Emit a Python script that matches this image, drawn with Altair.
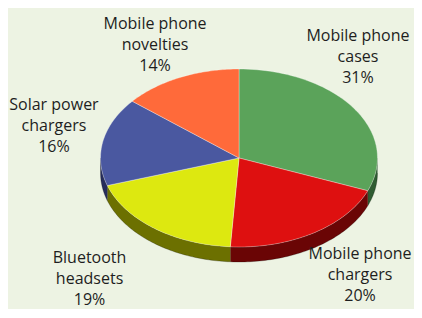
import altair as alt
import pandas as pd

# ---- data ----
categories = ["Mobile phone cases", "Mobile phone chargers", "Bluetooth headsets",
              "Solar power chargers", "Mobile phone novelties"]
values = [31, 20, 19, 16, 14]
label_lines = ["Mobile phone\ncases", "Mobile phone\nchargers", "Bluetooth\nheadsets",
               "Solar power\nchargers", "Mobile phone\nnovelties"]

# ---- styling / layout ----
top_colors = ["#5ba35a", "#de1010", "#dde810", "#4a58a0", "#ff6a3a"]
side_colors = ["#2f5c32", "#6a0505", "#6c7000", "#262d5c", "#a0401f"]
# label anchors (middle line) in pie-radius units (x right, y up)
label_x = [0.859, 0.874, -1.079, -1.336, -0.606]
label_y = [1.135, -1.315, -1.360, 0.360, 1.270]

W, H = 406, 301
CX, CY = 231.0, 150.0      # pie centre in chart pixels
RX, RY = 138.5, 89.0       # ellipse radii in pixels
DEPTH = 15.0 / RY          # side wall depth in y units
LH = 21                    # label line height

xdom = [-CX / RX, (W - CX) / RX]
ydom = [(CY - H) / RY, CY / RY]

df = pd.DataFrame({
    "cat": categories,
    "value": values,
    "ord": list(range(len(categories))),
    "text": [f"{l}\n{v}%" for l, v in zip(label_lines, values)],
    "lx": label_x,
    "ly": label_y,
})

xs = alt.Scale(domain=xdom, nice=False, zero=False)
ys = alt.Scale(domain=ydom, nice=False, zero=False)

base = (
    alt.Chart(df)
    .transform_window(cum="sum(value)", sort=[{"field": "ord"}], frame=[None, 0])
    .transform_joinaggregate(total="sum(value)")
    .transform_calculate(
        a0="(datum.cum - datum.value) / datum.total * 2 * PI",
        a1="datum.cum / datum.total * 2 * PI",
    )
)

side = (
    base.transform_calculate(b0="max(datum.a0, PI / 2)", b1="min(datum.a1, 3 * PI / 2)")
    .transform_filter("datum.b1 > datum.b0")
    .transform_calculate(k="sequence(0, 122)")
    .transform_flatten(["k"])
    .transform_calculate(j="datum.k <= 60 ? datum.k : 121 - datum.k")
    .transform_calculate(th="datum.b0 + (datum.b1 - datum.b0) * datum.j / 60")
    .transform_calculate(
        px="sin(datum.th)",
        py=f"datum.k <= 60 ? cos(datum.th) : cos(datum.th) - {DEPTH}",
    )
    .mark_line(strokeWidth=0.6, strokeOpacity=0.4, stroke="#000000")
    .encode(
        x=alt.X("px:Q", scale=xs, axis=None),
        y=alt.Y("py:Q", scale=ys, axis=None),
        fill=alt.Fill("cat:N", scale=alt.Scale(domain=categories, range=side_colors), legend=None),
        detail="cat:N",
        order=alt.Order("k:Q"),
    )
)

top = (
    base.transform_calculate(k="sequence(0, 63)")
    .transform_flatten(["k"])
    .transform_calculate(th="datum.a0 + (datum.a1 - datum.a0) * (datum.k - 1) / 60")
    .transform_calculate(
        px="(datum.k == 0 || datum.k == 62) ? 0 : sin(datum.th)",
        py="(datum.k == 0 || datum.k == 62) ? 0 : cos(datum.th)",
    )
    .mark_line(strokeWidth=0.7, strokeOpacity=0.45, stroke="#ffffff")
    .encode(
        x=alt.X("px:Q", scale=xs, axis=None),
        y=alt.Y("py:Q", scale=ys, axis=None),
        fill=alt.Fill("cat:N", scale=alt.Scale(domain=categories, range=top_colors), legend=None),
        detail="cat:N",
        order=alt.Order("k:Q"),
    )
)

labels = (
    alt.Chart(df)
    .mark_text(lineBreak="\n", lineHeight=LH, fontSize=16, font="Open Sans",
               color="#1e1e1e", align="center", baseline="middle", dy=-LH)
    .encode(
        x=alt.X("lx:Q", scale=xs, axis=None),
        y=alt.Y("ly:Q", scale=ys, axis=None),
        text="text:N",
    )
)

chart = (
    alt.layer(side, top, labels)
    .resolve_scale(fill="independent")
    .properties(width=W, height=H, padding=0, autosize=alt.AutoSizeParams(type="none"),
                background="#edf3e3")
    .configure_view(stroke=None)
)

chart.save("out.html", embed_options={"renderer": "svg", "actions": False})
